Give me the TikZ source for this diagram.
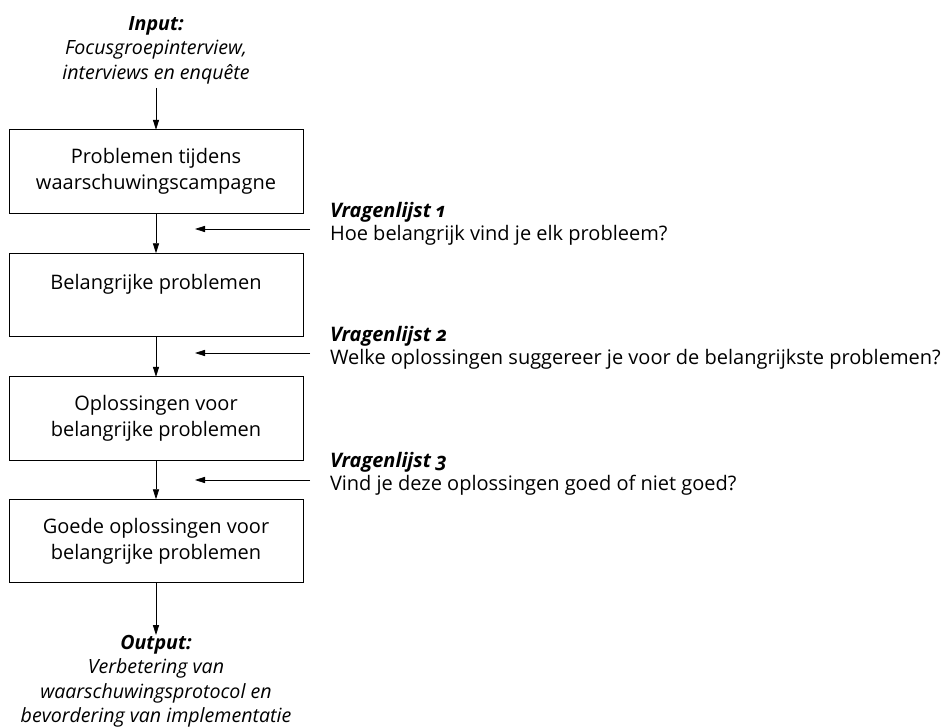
\documentclass[tikz,border=0pt]{standalone}
\usepackage{fontspec}
\setmainfont{Open Sans}[Numbers=OldStyle]
\usetikzlibrary{arrows.meta}
\begin{document}
\begin{tikzpicture}[x=0.75pt,y=-0.75pt,
  every node/.style={inner sep=0pt, outer sep=0pt},
  box/.style={draw, line width=0.6pt, minimum width=220.5pt, minimum height=62.6pt, align=center, font=\fontsize{15}{19.5}\selectfont},
  lbl/.style={align=center, font=\fontsize{14.7}{18.4}\selectfont\itshape},
  side/.style={align=left, anchor=north west, font=\fontsize{15}{17.5}\selectfont},
  arr/.style={line width=0.6pt, -{Triangle[length=7.5pt,width=4.6pt]}}]
\useasboundingbox (0,0) rectangle (943,727);
\node[lbl] (in) at (156,50) {\textbf{Input:}\\Focusgroepinterview,\\interviews en enquête};
\node[box] (b1) at (156,171.5) {Problemen tijdens\\waarschuwingscampagne};
\node[box] (b2) at (156,295) {Belangrijke problemen\\\mbox{}};
\node[box] (b3) at (156,418.5) {Oplossingen voor\\belangrijke problemen};
\node[box] (b4) at (156,541) {Goede oplossingen voor\\belangrijke problemen};
\node[lbl, anchor=north] (out) at (156,635) {\textbf{Output:}\\Verbetering van\\waarschuwingsprotocol en\\bevordering van implementatie};
\draw[arr] (in.south |- 0,88) -- (b1.north);
\draw[arr] (b1) -- (b2);
\draw[arr] (b2) -- (b3);
\draw[arr] (b3) -- (b4);
\draw[arr] (b4.south) -- (out.north);
\node[side] (q1) at (330,202) {\textbf{\itshape Vragenlijst 1}\\Hoe belangrijk vind je elk probleem?};
\node[side] (q2) at (330,326) {\textbf{\itshape Vragenlijst 2}\\Welke oplossingen suggereer je voor de belangrijkste problemen?};
\node[side] (q3) at (330,452) {\textbf{\itshape Vragenlijst 3}\\Vind je deze oplossingen goed of niet goed?};
\coordinate (s1) at (310,229); \coordinate (e1) at (195,229);
\coordinate (s2) at (310,353); \coordinate (e2) at (195,353);
\coordinate (s3) at (310,480); \coordinate (e3) at (195,480);
\draw[arr] (s1) -- (e1);
\draw[arr] (s2) -- (e2);
\draw[arr] (s3) -- (e3);
\end{tikzpicture}
\end{document}
